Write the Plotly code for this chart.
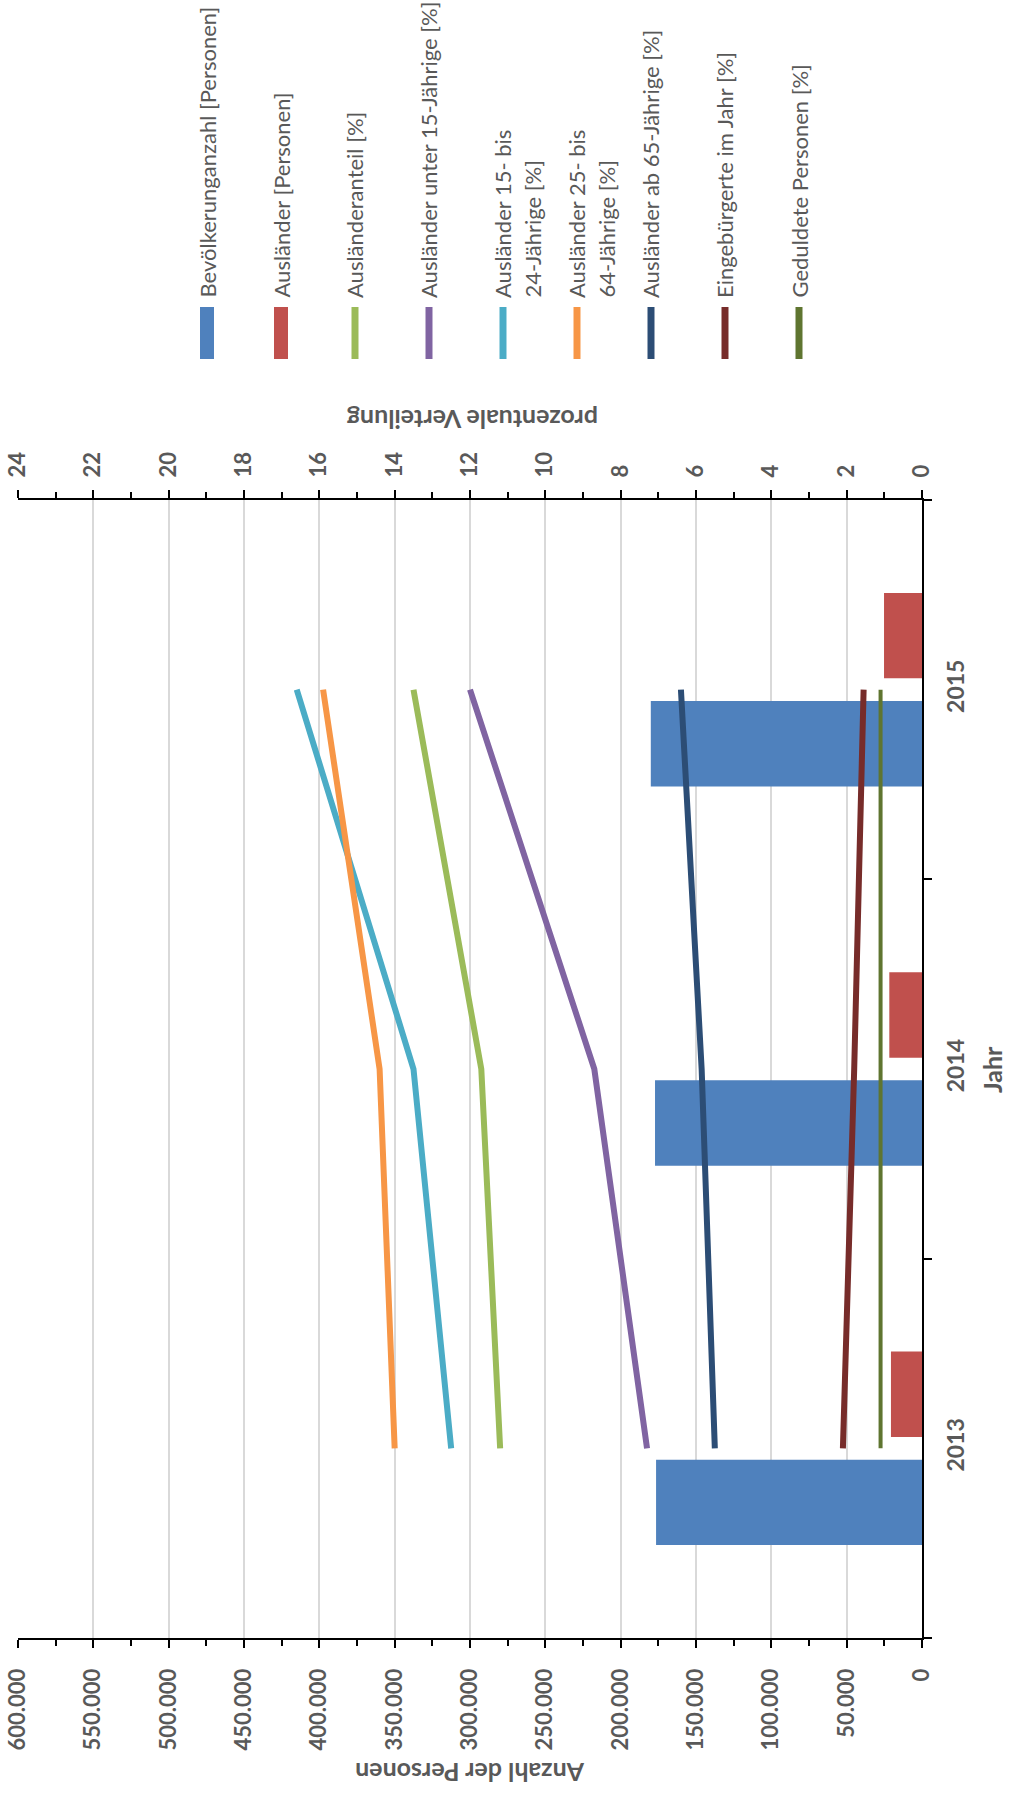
import plotly.graph_objects as go

# ---- data -------------------------------------------------------------
years = ["2013", "2014", "2015"]

bevoelkerung = [176500, 177200, 180000]      # Personen
auslaender = [20600, 21700, 25200]           # Personen

auslaenderanteil = [11.2, 11.7, 13.5]        # %
unter_15 = [7.3, 8.7, 12.0]                  # %
von_15_bis_24 = [12.5, 13.5, 16.6]           # %
von_25_bis_64 = [14.0, 14.4, 15.9]           # %
ab_65 = [5.5, 5.85, 6.4]                     # %
eingebuergerte = [2.1, 1.8, 1.55]            # %
geduldete = [1.1, 1.1, 1.1]                  # %

person_ticks = [0, 50000, 100000, 150000, 200000, 250000, 300000,
                350000, 400000, 450000, 500000, 550000, 600000]
person_tick_labels = ["0", "50.000", "100.000", "150.000", "200.000", "250.000",
                      "300.000", "350.000", "400.000", "450.000", "500.000",
                      "550.000", "600.000"]
percent_ticks = [0, 2, 4, 6, 8, 10, 12, 14, 16, 18, 20, 22, 24]
percent_tick_labels = [str(v) for v in percent_ticks]

bar_series = [
    ("Bevölkerunganzahl [Personen]", bevoelkerung, "#4F81BD"),
    ("Ausländer [Personen]", auslaender, "#C0504D"),
]
line_series = [
    ("Ausländeranteil [%]", auslaenderanteil, "#9BBB59", 6),
    ("Ausländer unter 15-Jährige [%]", unter_15, "#8064A2", 6),
    ("Ausländer 15- bis<br>24-Jährige [%]", von_15_bis_24, "#4BACC6", 6),
    ("Ausländer 25- bis<br>64-Jährige [%]", von_25_bis_64, "#F79646", 6),
    ("Ausländer ab 65-Jährige [%]", ab_65, "#2C4D75", 6),
    ("Eingebürgerte im Jahr [%]", eingebuergerte, "#772C2A", 6),
    ("Geduldete Personen [%]", geduldete, "#5F7530", 4),
]

# ---- geometry (pixels) ------------------------------------------------
W, H = 1010, 1793
PLOT_L, PLOT_R, PLOT_T, PLOT_B = 18, 922, 500, 1638
TEXT = "#595959"
FONT = "Lato"


def px_x(px):
    return (px - PLOT_L) / (PLOT_R - PLOT_L)


def px_y(py):
    return (PLOT_B - py) / (PLOT_B - PLOT_T)


fig = go.Figure()

for name, values, color in bar_series:
    fig.add_trace(go.Bar(
        x=values, y=years, orientation="h", name=name,
        marker=dict(color=color, line=dict(width=0)),
        xaxis="x", yaxis="y", showlegend=False,
    ))

for name, values, color, width in line_series:
    fig.add_trace(go.Scatter(
        x=values, y=years, mode="lines", name=name.replace("<br>", " "),
        line=dict(color=color, width=width),
        xaxis="x2", yaxis="y", showlegend=False,
    ))

tick_font = dict(family=FONT, size=22, color=TEXT, weight=700)
year_font = dict(family=FONT, size=23, color=TEXT, weight=700)

common_tick = dict(ticklen=8, tickwidth=2, tickcolor="black", automargin=False)

fig.update_layout(
    template="none",
    width=W, height=H,
    margin=dict(l=PLOT_L, r=W - PLOT_R, t=PLOT_T, b=H - PLOT_B, pad=0,
                autoexpand=False),
    paper_bgcolor="white", plot_bgcolor="white",
    barmode="group", bargap=0.43, bargroupgap=0.21,
    font=dict(family=FONT, color=TEXT),
    showlegend=False,
    xaxis=dict(
        range=[600000, 0], tickmode="array", tickvals=person_ticks,
        ticktext=person_tick_labels, tickangle=-90, tickfont=tick_font,
        ticks="outside", ticklabelstandoff=12, **common_tick,
        minor=dict(dtick=25000, tick0=0, ticks="outside", ticklen=6,
                   tickwidth=1.5, tickcolor="black", showgrid=False),
        showline=True, linecolor="black", linewidth=2,
        showgrid=True, gridcolor="#D9D9D9", gridwidth=2,
        zeroline=False, side="bottom", anchor="y",
    ),
    xaxis2=dict(
        range=[24, 0], tickmode="array", tickvals=percent_ticks,
        ticktext=percent_tick_labels, tickangle=-90, tickfont=tick_font,
        ticks="outside", ticklabelstandoff=8, **common_tick,
        minor=dict(dtick=1, tick0=0, ticks="outside", ticklen=6,
                   tickwidth=1.5, tickcolor="black", showgrid=False),
        showline=True, linecolor="black", linewidth=2,
        showgrid=False, zeroline=False,
        side="top", overlaying="x", anchor="y",
    ),
    # inner halves of the crossing tick marks
    xaxis3=dict(
        range=[600000, 0], tickmode="array", tickvals=person_ticks,
        ticks="inside", **common_tick,
        minor=dict(dtick=25000, tick0=0, ticks="inside", ticklen=6,
                   tickwidth=1.5, tickcolor="black", showgrid=False),
        showticklabels=False, showline=False, showgrid=False,
        zeroline=False, side="bottom", overlaying="x", anchor="y",
    ),
    xaxis4=dict(
        range=[24, 0], tickmode="array", tickvals=percent_ticks,
        ticks="inside", **common_tick,
        minor=dict(dtick=1, tick0=0, ticks="inside", ticklen=6,
                   tickwidth=1.5, tickcolor="black", showgrid=False),
        showticklabels=False, showline=False, showgrid=False,
        zeroline=False, side="top", overlaying="x", anchor="y",
    ),
    yaxis=dict(
        type="category", categoryorder="array", categoryarray=years,
        range=[-0.5, 2.5], side="right", anchor="x",
        tickangle=-90, tickfont=year_font, ticklabelstandoff=12,
        ticks="outside", tickson="boundaries", **common_tick,
        showline=True, linecolor="black", linewidth=2,
        showgrid=False, zeroline=False,
    ),
    yaxis2=dict(
        range=[-0.5, 2.5], tickmode="array", tickvals=[0.5, 1.5],
        ticks="inside", **common_tick,
        showticklabels=False, showline=False, showgrid=False,
        zeroline=False, side="right", overlaying="y", anchor="x",
    ),
)

annotations = []
shapes = []

# axis titles
title_font = dict(family=FONT, size=25, color=TEXT, weight=700)
annotations.append(dict(
    text="Anzahl der Personen", x=px_x(470), y=px_y(1773),
    xref="paper", yref="paper", xanchor="center", yanchor="middle",
    textangle=180, showarrow=False, font=title_font,
))
annotations.append(dict(
    text="prozentuale Verteilung", x=px_x(472), y=px_y(420),
    xref="paper", yref="paper", xanchor="center", yanchor="middle",
    textangle=180, showarrow=False, font=title_font,
))
annotations.append(dict(
    text="Jahr", x=px_x(1009), y=px_y((PLOT_T + PLOT_B) / 2),
    xref="paper", yref="paper", xanchor="right", yanchor="middle",
    textangle=-90, showarrow=False, font=title_font,
))

# legend: vertical swatches with rotated labels above the top axis
legend_entries = [(n, c, "bar") for n, _, c in bar_series] + \
                 [(n, c, "line") for n, _, c, _ in line_series]
LEG_X0, LEG_STEP = 207, 74
SW_TOP, SW_BOTTOM, TEXT_BOTTOM = 307, 359, 300
LINE_STEP = 29
legend_font = dict(family=FONT, size=22, color=TEXT)

for i, (name, color, kind) in enumerate(legend_entries):
    cx = LEG_X0 + LEG_STEP * i
    half = 7 if kind == "bar" else 3.5
    shapes.append(dict(
        type="rect", xref="paper", yref="paper",
        x0=px_x(cx - half), x1=px_x(cx + half),
        y0=px_y(SW_BOTTOM), y1=px_y(SW_TOP),
        fillcolor=color, line=dict(width=0),
    ))
    for j, part in enumerate(name.split("<br>")):
        annotations.append(dict(
            text=part, x=px_x(cx + LINE_STEP * j), y=px_y(TEXT_BOTTOM),
            xref="paper", yref="paper", xanchor="center", yanchor="bottom",
            textangle=-90, showarrow=False, font=legend_font,
        ))

fig.update_layout(annotations=annotations, shapes=shapes)

fig.write_html("out.html")
